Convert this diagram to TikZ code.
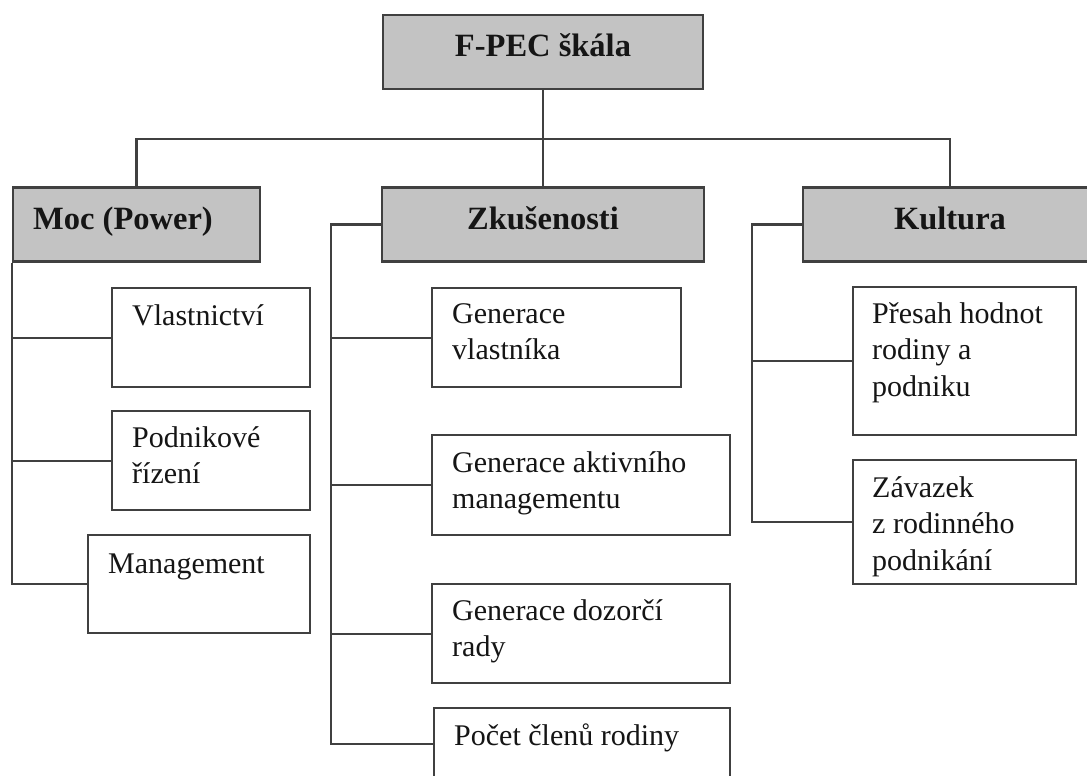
\documentclass[tikz,border=0pt]{standalone}
\usepackage{fontspec}
\setmainfont{Liberation Serif}
\usetikzlibrary{calc}
\definecolor{hdrgray}{HTML}{C3C3C3}
\definecolor{linegray}{HTML}{404040}
\definecolor{txtcol}{HTML}{151515}
\newcommand{\celllines}[1]{\begin{tabular}[t]{@{}l@{}}#1\end{tabular}}
\begin{document}
\begin{tikzpicture}[x=1pt,y=-1pt,
  hdr/.style={draw=linegray, line width=2.2pt, fill=hdrgray, inner sep=0pt,
    minimum height=74pt, text=txtcol,
    font=\bfseries\fontsize{32.5}{39}\selectfont, text height=22pt, text depth=12pt},
  cbox/.style={draw=linegray, line width=2.2pt, fill=white, inner sep=0pt, anchor=north west},
  ctext/.style={anchor=base west, inner sep=0pt, text=txtcol,
    font=\fontsize{30}{36.5}\selectfont},
  conn/.style={draw=linegray, line width=2.2pt}]
\useasboundingbox (0,0) rectangle (1087,776);
\fill[white] (0,0) rectangle (1087,776);
\clip (0,0) rectangle (1087,776);

% header boxes
\node[hdr, minimum width=320pt] (fpec) at (543,52) {F-PEC škála};
\node[hdr, minimum width=247pt] (moc) at (136.5,224.5) {Moc (Power)\hspace*{27pt}};
\node[hdr, minimum width=322pt] (zk) at (543,224.5) {Zkušenosti};
\node[hdr, minimum width=294pt] (kult) at (950,224.5) {Kultura};

% Moc children
\node[cbox, minimum width=198pt, minimum height=99pt] (v1) at (111,287) {};
\node[cbox, minimum width=198pt, minimum height=99pt] (v2) at (111,410) {};
\node[cbox, minimum width=222pt, minimum height=98pt] (v3) at (87,534) {};
% Zkusenosti children
\node[cbox, minimum width=249pt, minimum height=99pt] (g1) at (431,287) {};
\node[cbox, minimum width=298pt, minimum height=100pt] (g2) at (431,434) {};
\node[cbox, minimum width=298pt, minimum height=99pt] (g3) at (431,583) {};
\node[cbox, minimum width=296pt, minimum height=72pt] (g4) at (433,707) {};
% Kultura children
\node[cbox, minimum width=223pt, minimum height=148pt] (k1) at (852,286) {};
\node[cbox, minimum width=223pt, minimum height=124pt] (k2) at (852,459) {};

% texts
\node[ctext] (v1t) at ($(v1.north west)+(21,38)$) {\celllines{Vlastnictví}};
\node[ctext] (v2t) at ($(v2.north west)+(21,37)$) {\celllines{Podnikové\\řízení}};
\node[ctext] (v3t) at ($(v3.north west)+(21,39)$) {\celllines{Management}};
\node[ctext] (g1t) at ($(g1.north west)+(21,36)$) {\celllines{Generace\\vlastníka}};
\node[ctext] (g2t) at ($(g2.north west)+(21,38)$) {\celllines{Generace aktivního\\managementu}};
\node[ctext] (g3t) at ($(g3.north west)+(21,37)$) {\celllines{Generace dozorčí\\rady}};
\node[ctext] (g4t) at ($(g4.north west)+(21,38)$) {\celllines{Počet členů rodiny}};
\node[ctext] (k1t) at ($(k1.north west)+(20,37)$) {\celllines{Přesah hodnot\\rodiny a\\podniku}};
\node[ctext] (k2t) at ($(k2.north west)+(20,38)$) {\celllines{Závazek\\z rodinného\\podnikání}};

% top-level connectors
\coordinate (bus) at ($(fpec.south)+(0,49)$);
\draw[conn] (fpec.south) -- (bus);
\draw[conn] (moc.north) |- (bus) -| (kult.north);
\draw[conn] (bus) -- (zk.north);

% Moc branch
\coordinate (mocbus) at (moc.south west);
\draw[conn] (mocbus) |- (v3.west);
\draw[conn] (v1.west) -- (v1.west -| mocbus);
\draw[conn] (v2.west) -- (v2.west -| mocbus);

% Zkusenosti branch
\coordinate (zkbus) at ($(zk.west)+(-50,0)$);
\draw[conn] (zk.west) -- (zkbus) |- (g4.west);
\draw[conn] (g1.west) -- (g1.west -| zkbus);
\draw[conn] (g2.west) -- (g2.west -| zkbus);
\draw[conn] (g3.west) -- (g3.west -| zkbus);

% Kultura branch
\coordinate (kbus) at ($(kult.west)+(-50,0)$);
\draw[conn] (kult.west) -- (kbus) |- (k2.west);
\draw[conn] (k1.west) -- (k1.west -| kbus);
\end{tikzpicture}
\end{document}
